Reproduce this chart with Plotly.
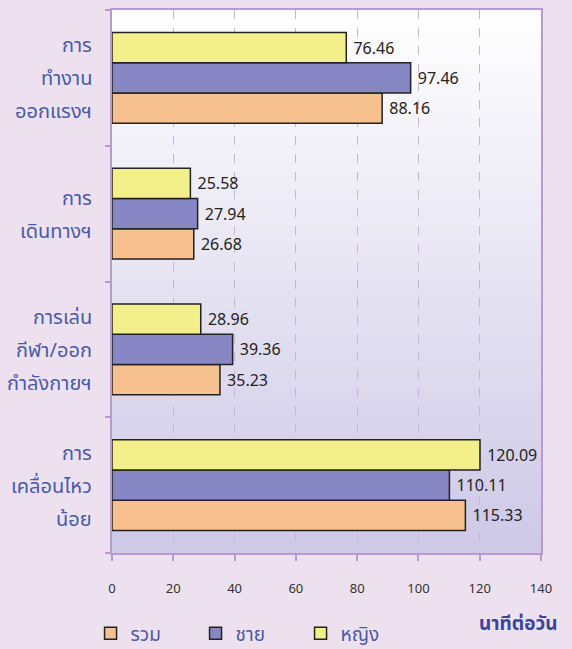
import plotly.graph_objects as go

categories = ["การ\nทำงาน\nออกแรงฯ", "การ\nเดินทางฯ", "การเล่น\nกีฬา/ออก\nกำลังกายฯ", "การ\nเคลื่อนไหว\nน้อย"]
series_names = ["รวม", "ชาย", "หญิง"]
total = [88.16, 26.68, 35.23, 115.33]
male = [97.46, 27.94, 39.36, 110.11]
female = [76.46, 25.58, 28.96, 120.09]
x_ticks = [0, 20, 40, 60, 80, 100, 120, 140]
unit_label = "นาทีต่อวัน"

colors = ["#f6c18e", "#8787c6", "#f3ef8a"]
values = [total, male, female]

font_family = "Tahoma, 'Noto Sans', 'Noto Sans Thai', 'DejaVu Sans', sans-serif"

fig = go.Figure()
for name, vals, col in zip(series_names, values, colors):
    fig.add_trace(go.Bar(
        y=categories, x=vals, name=name, orientation="h",
        marker=dict(color=col, line=dict(color="#222222", width=1.5)),
        texttemplate="\u00a0%{x:.2f}", textposition="outside",
        textfont=dict(size=16, color="#222222", family=font_family),
        cliponaxis=False,
    ))

# gradient plot background
shapes = []
n = 40
top = (255, 255, 255)
bot = (205, 200, 230)
for i in range(n):
    t = (i + 0.5) / n
    c = tuple(int(round(top[k] + (bot[k] - top[k]) * t)) for k in range(3))
    shapes.append(dict(type="rect", xref="paper", yref="paper",
                       x0=0, x1=1, y0=1 - (i + 1) / n, y1=1 - i / n + 0.001,
                       fillcolor=f"rgb{c}", line=dict(width=0), layer="below"))

# category labels with tall line spacing
annotations = []
for cat in categories:
    lines = cat.split("\n")
    m = len(lines)
    for j, ln in enumerate(lines):
        annotations.append(dict(
            x=0, xref="paper", y=cat, yref="y", xanchor="right", yanchor="middle",
            xshift=-18, yshift=(m - 1) / 2 * 33 - j * 33, text=ln, showarrow=False,
            font=dict(size=20, color="#4a5aab", family=font_family)))

annotations.append(dict(x=1.045, xref="paper", y=-0.128, yref="paper",
                        xanchor="right", yanchor="middle", text="<b>" + unit_label + "</b>",
                        showarrow=False,
                        font=dict(size=19, color="#3a469a", family=font_family)))

fig.update_layout(
    width=572, height=649,
    margin=dict(l=112, r=31, t=10, b=96, autoexpand=False),
    paper_bgcolor="#ede1ef", plot_bgcolor="rgba(0,0,0,0)",
    barmode="group", bargap=0.33, bargroupgap=0,
    shapes=shapes, annotations=annotations,
    font=dict(family=font_family),
    legend=dict(orientation="h", x=-0.05, xanchor="left", y=-0.148, yanchor="middle",
                entrywidth=60, entrywidthmode="pixels", itemwidth=30,
                font=dict(size=19, color="#4a5aab", family=font_family),
                bgcolor="rgba(0,0,0,0)"),
    xaxis=dict(range=[0, 140], tickvals=x_ticks, showgrid=True, gridcolor="#c9b3da",
               griddash="dash", gridwidth=1, zeroline=False,
               showline=True, linecolor="#b99ad0", linewidth=2, mirror=True,
               ticks="outside", ticklen=6, tickcolor="#b99ad0", tickwidth=2,
               ticklabelstandoff=16,
               tickfont=dict(size=13, color="#333333", family=font_family)),
    yaxis=dict(categoryorder="array", categoryarray=categories[::-1],
               showticklabels=False, showline=True, linecolor="#b99ad0", linewidth=2,
               mirror=True, ticks="outside", tickson="boundaries", ticklen=5,
               tickcolor="#b99ad0", tickwidth=2, showgrid=False),
)

fig.write_html("out.html", post_script="document.body.style.margin='0';",
               config={"displayModeBar": False})
